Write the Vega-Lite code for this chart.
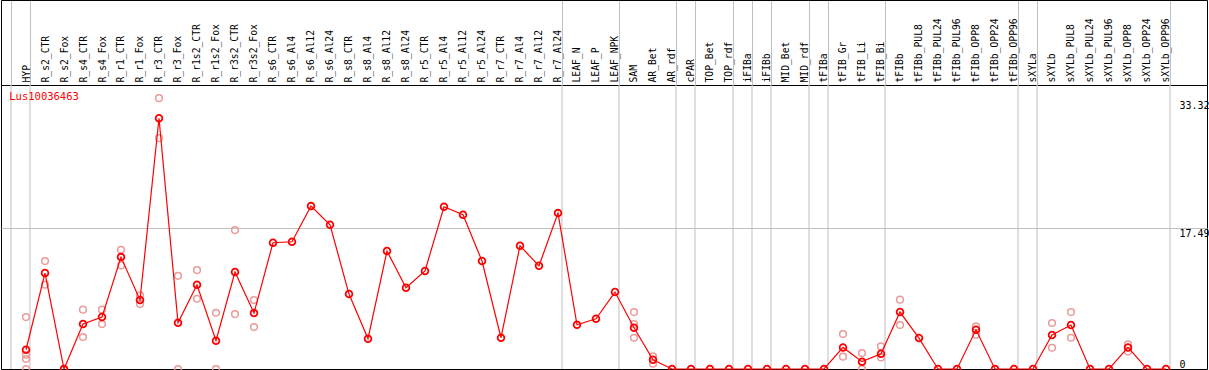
{
  "$schema": "https://vega.github.io/schema/vega-lite/v6.json",
  "width": 1206,
  "height": 284,
  "autosize": {"type": "none"},
  "padding": {"top": 85, "left": 1, "right": 2, "bottom": 1},
  "background": "white",
  "config": {
    "view": {"stroke": "black", "strokeWidth": 1},
    "font": "DejaVu Sans Mono",
    "axis": {"labelFont": "DejaVu Sans Mono", "labelFontSize": 10, "labelColor": "black", "title": null}
  },
  "datasets": {
    "means": [
      {"i": 0, "v": 2.39}, {"i": 1, "v": 11.91}, {"i": 2, "v": 0}, {"i": 3, "v": 5.58},
      {"i": 4, "v": 6.45}, {"i": 5, "v": 13.89}, {"i": 6, "v": 8.56}, {"i": 7, "v": 31.13},
      {"i": 8, "v": 5.74}, {"i": 9, "v": 10.46}, {"i": 10, "v": 3.51}, {"i": 11, "v": 12.03},
      {"i": 12, "v": 6.94}, {"i": 13, "v": 15.67}, {"i": 14, "v": 15.79}, {"i": 15, "v": 20.22},
      {"i": 16, "v": 17.9}, {"i": 17, "v": 9.3}, {"i": 18, "v": 3.76}, {"i": 19, "v": 14.64},
      {"i": 20, "v": 10.08}, {"i": 21, "v": 12.16}, {"i": 22, "v": 20.13}, {"i": 23, "v": 19.14},
      {"i": 24, "v": 13.4}, {"i": 25, "v": 3.88}, {"i": 26, "v": 15.29}, {"i": 27, "v": 12.81},
      {"i": 28, "v": 19.35}, {"i": 29, "v": 5.49}, {"i": 30, "v": 6.24}, {"i": 31, "v": 9.55},
      {"i": 32, "v": 5.12}, {"i": 33, "v": 1.15}, {"i": 34, "v": 0}, {"i": 35, "v": 0},
      {"i": 36, "v": 0}, {"i": 37, "v": 0}, {"i": 38, "v": 0}, {"i": 39, "v": 0},
      {"i": 40, "v": 0}, {"i": 41, "v": 0}, {"i": 42, "v": 0}, {"i": 43, "v": 2.68},
      {"i": 44, "v": 0.91}, {"i": 45, "v": 1.9}, {"i": 46, "v": 7.07}, {"i": 47, "v": 3.84},
      {"i": 48, "v": 0}, {"i": 49, "v": 0}, {"i": 50, "v": 4.87}, {"i": 51, "v": 0},
      {"i": 52, "v": 0}, {"i": 53, "v": 0}, {"i": 54, "v": 4.22}, {"i": 55, "v": 5.46},
      {"i": 56, "v": 0}, {"i": 57, "v": 0}, {"i": 58, "v": 2.68}, {"i": 59, "v": 0},
      {"i": 60, "v": 0}
    ],
    "reps": [
      {"i": 0, "v": 6.45}, {"i": 0, "v": 1.77}, {"i": 0, "v": 1.24}, {"i": 0, "v": 0},
      {"i": 1, "v": 13.4}, {"i": 1, "v": 10.46},
      {"i": 2, "v": 0}, {"i": 2, "v": 0},
      {"i": 3, "v": 7.36}, {"i": 3, "v": 3.97},
      {"i": 4, "v": 7.36}, {"i": 4, "v": 5.58},
      {"i": 5, "v": 14.8}, {"i": 5, "v": 12.85},
      {"i": 6, "v": 9.13}, {"i": 6, "v": 8.06},
      {"i": 7, "v": 33.61}, {"i": 7, "v": 28.65},
      {"i": 8, "v": 11.57}, {"i": 8, "v": 0},
      {"i": 9, "v": 12.28}, {"i": 9, "v": 8.72},
      {"i": 10, "v": 6.98}, {"i": 10, "v": 0},
      {"i": 11, "v": 17.24}, {"i": 11, "v": 6.82},
      {"i": 12, "v": 8.56}, {"i": 12, "v": 5.21},
      {"i": 32, "v": 7.07}, {"i": 32, "v": 5.58}, {"i": 32, "v": 3.88},
      {"i": 33, "v": 1.56}, {"i": 33, "v": 0.66},
      {"i": 43, "v": 4.34}, {"i": 43, "v": 1.53},
      {"i": 44, "v": 1.98}, {"i": 44, "v": 0},
      {"i": 45, "v": 2.8}, {"i": 45, "v": 1.44},
      {"i": 46, "v": 8.6}, {"i": 46, "v": 5.46},
      {"i": 50, "v": 5.29}, {"i": 50, "v": 4.25},
      {"i": 54, "v": 5.71}, {"i": 54, "v": 2.64},
      {"i": 55, "v": 7.07}, {"i": 55, "v": 3.88},
      {"i": 58, "v": 3.05}, {"i": 58, "v": 2.18}
    ],
    "bounds": [
      {"b": -0.7895}, {"b": 0.2105}, {"b": 28.2105}, {"b": 31.2105}, {"b": 34.2105},
      {"b": 35.2105}, {"b": 37.2105}, {"b": 38.2105}, {"b": 39.2105}, {"b": 41.2105},
      {"b": 42.2105}, {"b": 45.2105}, {"b": 52.2105}, {"b": 53.2105}, {"b": 60.2105}
    ],
    "gene": [{"name": "Lus10036463"}]
  },
  "resolve": {"axis": {"x": "independent"}},
  "layer": [
    {
      "data": {"name": "bounds"},
      "mark": {"type": "rule", "color": "#c0c0c0", "strokeWidth": 1},
      "encoding": {
        "x": {
          "field": "b", "type": "quantitative",
          "scale": {"domain": [-1.3158, 62.158], "nice": false, "zero": false},
          "axis": {
            "orient": "top", "offset": 85, "labels": false, "grid": false,
            "domain": true, "domainColor": "black", "domainWidth": 1,
            "ticks": true, "tickSize": -85, "tickWidth": 1,
            "tickColor": {"condition": {"test": "datum.value < -1 || datum.value > 62", "value": "black"}, "value": "#c0c0c0"},
            "values": [-1.3158, -0.7895, 0.2105, 28.2105, 31.2105, 34.2105, 35.2105, 37.2105, 38.2105, 39.2105, 41.2105, 42.2105, 45.2105, 52.2105, 53.2105, 60.2105, 62.158]
          }
        }
      }
    },
    {
      "data": {"name": "reps"},
      "mark": {"type": "point", "shape": "circle", "filled": false, "stroke": "#eb9a9a", "strokeWidth": 1.5, "size": 45, "opacity": 1},
      "encoding": {
        "x": {"field": "i", "type": "quantitative", "axis": null},
        "y": {
          "field": "v", "type": "quantitative",
          "scale": {"domain": [0, 35.25], "nice": false, "zero": false},
          "axis": {
            "orient": "right", "values": [0, 17.49, 33.32], "domain": false, "ticks": false, "tickSize": 0,
            "labelAlign": "left", "labelPadding": -28, "labelFlush": false,
            "grid": true, "gridColor": "#c0c0c0", "gridWidth": 1,
            "labelExpr": "'' + datum.value",
            "labelBaseline": {"condition": {"test": "datum.value == 0", "value": "bottom"}, "value": "top"},
            "gridOpacity": {"condition": {"test": "datum.value > 17 && datum.value < 18", "value": 1}, "value": 0}
          }
        }
      }
    },
    {
      "data": {"name": "means"},
      "mark": {"type": "line", "color": "#ff0000", "strokeWidth": 1.2},
      "encoding": {
        "x": {
          "field": "i", "type": "quantitative",
          "axis": {
            "orient": "top", "grid": false, "domain": false, "ticks": false, "tickSize": 0,
            "labelAngle": -90, "labelAlign": "left", "labelBaseline": "middle", "labelPadding": 3,
            "labelFontSize": 9.7, "labelOverlap": false, "labelBound": false,
            "values": [0,1,2,3,4,5,6,7,8,9,10,11,12,13,14,15,16,17,18,19,20,21,22,23,24,25,26,27,28,29,30,31,32,33,34,35,36,37,38,39,40,41,42,43,44,45,46,47,48,49,50,51,52,53,54,55,56,57,58,59,60],
            "labelExpr": "['HYP','R_s2_CTR','R_s2_Fox','R_s4_CTR','R_s4_Fox','R_r1_CTR','R_r1_Fox','R_r3_CTR','R_r3_Fox','R_r1s2_CTR','R_r1s2_Fox','R_r3s2_CTR','R_r3s2_Fox','R_s6_CTR','R_s6_Al4','R_s6_Al12','R_s6_Al24','R_s8_CTR','R_s8_Al4','R_s8_Al12','R_s8_Al24','R_r5_CTR','R_r5_Al4','R_r5_Al12','R_r5_Al24','R_r7_CTR','R_r7_Al4','R_r7_Al12','R_r7_Al24','LEAF_N','LEAF_P','LEAF_NPK','SAM','AR_Bet','AR_rdf','cPAR','TOP_Bet','TOP_rdf','iFIBa','iFIBb','MID_Bet','MID_rdf','tFIBa','tFIB_Gr','tFIB_Li','tFIB_Bi','tFIBb','tFIBb_PUL8','tFIBb_PUL24','tFIBb_PUL96','tFIBb_OPP8','tFIBb_OPP24','tFIBb_OPP96','sXYLa','sXYLb','sXYLb_PUL8','sXYLb_PUL24','sXYLb_PUL96','sXYLb_OPP8','sXYLb_OPP24','sXYLb_OPP96'][round(datum.value)]"
          }
        },
        "y": {
          "field": "v", "type": "quantitative",
          "axis": {
            "orient": "right", "values": [0, 17.49, 33.32], "domain": false, "ticks": false, "tickSize": 0,
            "labelAlign": "left", "labelPadding": -28, "labelFlush": false,
            "grid": true, "gridColor": "#c0c0c0", "gridWidth": 1,
            "labelExpr": "'' + datum.value",
            "labelBaseline": {"condition": {"test": "datum.value == 0", "value": "bottom"}, "value": "top"},
            "gridOpacity": {"condition": {"test": "datum.value > 17 && datum.value < 18", "value": 1}, "value": 0}
          }
        }
      }
    },
    {
      "data": {"name": "means"},
      "mark": {"type": "point", "shape": "circle", "filled": false, "stroke": "#ff0000", "strokeWidth": 1.8, "size": 45, "opacity": 1},
      "encoding": {
        "x": {"field": "i", "type": "quantitative", "axis": null},
        "y": {
          "field": "v", "type": "quantitative",
          "axis": {
            "orient": "right", "values": [0, 17.49, 33.32], "domain": false, "ticks": false, "tickSize": 0,
            "labelAlign": "left", "labelPadding": -28, "labelFlush": false,
            "grid": true, "gridColor": "#c0c0c0", "gridWidth": 1,
            "labelExpr": "'' + datum.value",
            "labelBaseline": {"condition": {"test": "datum.value == 0", "value": "bottom"}, "value": "top"},
            "gridOpacity": {"condition": {"test": "datum.value > 17 && datum.value < 18", "value": 1}, "value": 0}
          }
        }
      }
    },
    {
      "data": {"name": "gene"},
      "mark": {"type": "text", "color": "#ff0000", "font": "DejaVu Sans Mono", "fontSize": 10.5, "align": "left", "baseline": "middle"},
      "encoding": {
        "x": {"datum": -0.879, "type": "quantitative", "axis": null},
        "y": {
          "datum": 33.8, "type": "quantitative",
          "axis": {
            "orient": "right", "values": [0, 17.49, 33.32], "domain": false, "ticks": false, "tickSize": 0,
            "labelAlign": "left", "labelPadding": -28, "labelFlush": false,
            "grid": true, "gridColor": "#c0c0c0", "gridWidth": 1,
            "labelExpr": "'' + datum.value",
            "labelBaseline": {"condition": {"test": "datum.value == 0", "value": "bottom"}, "value": "top"},
            "gridOpacity": {"condition": {"test": "datum.value > 17 && datum.value < 18", "value": 1}, "value": 0}
          }
        },
        "text": {"field": "name"}
      }
    }
  ]
}
